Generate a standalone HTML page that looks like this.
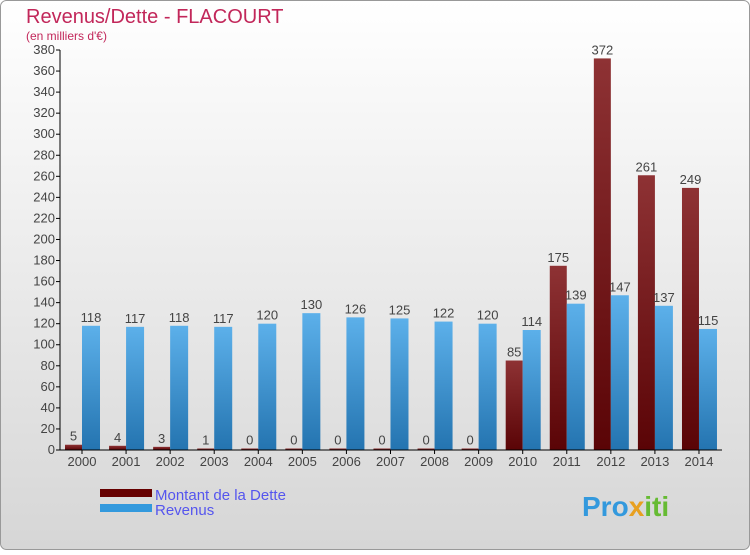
<!DOCTYPE html>
<html><head><meta charset="utf-8"><style>
body{margin:0;width:750px;height:550px;overflow:hidden;font-family:"Liberation Sans",sans-serif}
</style></head><body>
<svg id="c" width="750" height="550" xmlns="http://www.w3.org/2000/svg" font-family="Liberation Sans, sans-serif">
<defs>
<linearGradient id="bg" x1="0" y1="0" x2="0" y2="1"><stop offset="0" stop-color="#ffffff"/><stop offset="1" stop-color="#d6d6d6"/></linearGradient>
<linearGradient id="gr" x1="0" y1="0" x2="0" y2="1"><stop offset="0" stop-color="#5cb0ea"/><stop offset="1" stop-color="#2474b0"/></linearGradient>
<linearGradient id="gd" x1="0" y1="0" x2="0" y2="1"><stop offset="0" stop-color="#8e3234"/><stop offset="1" stop-color="#5a0406"/></linearGradient>
</defs>
<rect x="0.5" y="0.5" width="749" height="549" rx="6" fill="url(#bg)" stroke="#999"/>
<text x="26" y="23" font-size="20" fill="#c2275a">Revenus/Dette - FLACOURT</text>
<text x="26" y="40" font-size="12" fill="#c2275a">(en milliers d'€)</text>
<g id="g"></g>
<rect x="100" y="489" width="52" height="8" fill="#660000"/>
<rect x="100" y="504" width="52" height="8" fill="#3399dd"/>
<text x="155" y="500" font-size="15" fill="#5555ee">Montant de la Dette</text>
<text x="155" y="515" font-size="15" fill="#5555ee">Revenus</text>
<text x="582" y="516" font-size="28" font-weight="bold" fill="#3399dd">Pro<tspan fill="#e8a020">x</tspan><tspan fill="#66bb33">iti</tspan></text>
</svg>
<script>
const years=["2000","2001","2002","2003","2004","2005","2006","2007","2008","2009","2010","2011","2012","2013","2014"];
const dette=[5,4,3,1,0,0,0,0,0,0,85,175,372,261,249];
const revenus=[118,117,118,117,120,130,126,125,122,120,114,139,147,137,115];
const ticks=[0,20,40,60,80,100,120,140,160,180,200,220,240,260,280,300,320,340,360,380];
const NS="http://www.w3.org/2000/svg";
const g=document.getElementById('g');
const y0=450,yT=50,xL=60,xR=722;
const y=v=>y0-v*(y0-yT)/380;
const x=i=>82+i*44.07;
function el(t,a,txt){const e=document.createElementNS(NS,t);for(const k in a)e.setAttribute(k,a[k]);if(txt!==undefined)e.textContent=txt;g.appendChild(e);return e;}
ticks.forEach(t=>{
const l=el('line',{x1:xL-4,x2:xL,y1:y(t),y2:y(t),stroke:'#000'});


const tx=el('text',{x:xL-5,y:y(t)+4,'font-size':13,fill:'#444','text-anchor':'end'},t);


});
years.forEach((yr,i)=>{
const c=x(i);
const hd=Math.max(y0-y(dette[i]),1.5);
const b1=el('rect',{x:c-17,y:y0-hd,width:17,height:hd,fill:'url(#gd)'});


const b2=el('rect',{x:c,y:y(revenus[i]),width:18,height:y0-y(revenus[i]),fill:'url(#gr)'});


const t1=el('text',{x:c-8.5,y:y0-hd-4,'font-size':13,fill:'#444','text-anchor':'middle'},dette[i]);


const t2=el('text',{x:c+9,y:y(revenus[i])-4,'font-size':13,fill:'#444','text-anchor':'middle'},revenus[i]);


const xt=el('line',{x1:c,x2:c,y1:y0,y2:y0+4,stroke:'#000'});


const xl=el('text',{x:c,y:y0+16,'font-size':13,fill:'#444','text-anchor':'middle'},yr);


});
const ax=el('line',{x1:xL,x2:xL,y1:yT,y2:y0,stroke:'#000'});


const axx=el('line',{x1:xL,x2:xR,y1:y0,y2:y0,stroke:'#000'});


</script>
</body></html>
